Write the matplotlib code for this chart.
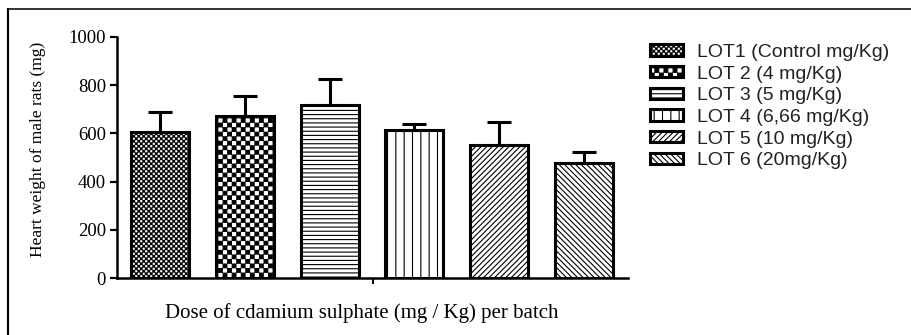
import warnings
import numpy as np
import matplotlib
matplotlib.use("Agg")
import matplotlib.pyplot as plt
import matplotlib.hatch as mhatch
from matplotlib.path import Path
from matplotlib.lines import Line2D

warnings.filterwarnings("ignore", message=".*hatch must consist.*")

# ---------------- data ----------------
groups = ["LOT1 (Control mg/Kg)", "LOT 2 (4 mg/Kg)", "LOT 3 (5 mg/Kg)",
          "LOT 4 (6,66 mg/Kg)", "LOT 5 (10 mg/Kg)", "LOT 6 (20mg/Kg)"]
means = [604, 672, 716, 614, 553, 476]
errors = [84, 83, 110, 25, 94, 48]
yticks = [0, 200, 400, 600, 800, 1000]
xlabel = "Dose of cdamium sulphate (mg / Kg) per batch"
ylabel = "Heart weight of male rats (mg)"


# ------------- custom checkerboard hatch -------------
class CheckerHatch(mhatch.HatchPatternBase):
    def __init__(self, hatch, density):
        self.n = 2 * hatch.count('c')
        self.cells = [(i, j) for i in range(self.n) for j in range(self.n)
                      if (i + j) % 2 == 0] if self.n else []
        self.num_vertices = 5 * len(self.cells)

    def set_vertices_and_codes(self, vertices, codes):
        s = 1.0 / self.n
        d = 0.004
        for k, (i, j) in enumerate(self.cells):
            x0, y0 = i * s + d, j * s + d
            x1, y1 = (i + 1) * s - d, (j + 1) * s - d
            vertices[5 * k:5 * k + 5] = [[x0, y0], [x1, y0], [x1, y1], [x0, y1], [x0, y0]]
            codes[5 * k:5 * k + 5] = [Path.MOVETO, Path.LINETO, Path.LINETO,
                                      Path.LINETO, Path.CLOSEPOLY]


mhatch._hatch_types.append(CheckerHatch)

plt.rcParams['hatch.linewidth'] = 0.8
plt.rcParams['hatch.color'] = 'black'
plt.rcParams['font.family'] = ['Liberation Serif', 'DejaVu Serif']

hatches = ['c' * 20, 'c' * 11, '----', '||', '//////', '\\' * 6]

fig = plt.figure(figsize=(9.12, 3.35), dpi=100)
W, H = 912, 335
ax = fig.add_axes([117 / W, 1 - 278.3 / H, (628 - 117) / W, (278.3 - 36.7) / H])

x = np.arange(len(means))
bars = ax.bar(x, means, width=0.685, color='white', edgecolor='black',
              linewidth=2.2, zorder=2)
for b, h, lab in zip(bars, hatches, groups):
    b.set_hatch(h)
    b.set_label(lab)

ax.errorbar(x, means, yerr=[np.zeros(len(errors)), errors], fmt='none',
            ecolor='black', elinewidth=2.2, capsize=8.5, capthick=2.2, zorder=3)

ax.set_ylim(0, 1000)
ax.set_xlim(-0.51, len(means) - 1 + 0.525)
ax.set_yticks(yticks)
ax.set_yticklabels([str(v) for v in yticks], fontsize=13.5)
mid = sum(ax.get_xlim()) / 2
ax.set_xticks([mid])
ax.set_xticklabels([''])
ax.tick_params(axis='y', direction='out', length=5, width=1.6, pad=3)
ax.tick_params(axis='x', direction='out', length=4, width=1.4)
for s in ['top', 'right']:
    ax.spines[s].set_visible(False)
for s in ['left', 'bottom']:
    ax.spines[s].set_linewidth(1.8)

fig.text(362 / W, 1 - 313 / H, xlabel, ha='center', va='center', fontsize=15)
fig.text(38 / W, 1 - 149 / H, ylabel, ha='center', va='center',
         rotation=90, fontsize=12.5)

leg = fig.legend(handles=list(bars), labels=groups, loc='upper left',
                 bbox_to_anchor=(650 / W, 1 - 44 / H), frameon=False,
                 prop={'family': 'Liberation Sans', 'size': 14},
                 handlelength=1.7, handleheight=0.51, handletextpad=0.71,
                 labelspacing=0.24, borderpad=0, borderaxespad=0)
for t in leg.get_texts():
    t.set_color('#222222')

# outer frame (top and left edges)
fig.add_artist(Line2D([8 / W, 1], [1 - 8.5 / H, 1 - 8.5 / H], transform=fig.transFigure,
                      color='#333333', linewidth=1.4))
fig.add_artist(Line2D([8.3 / W, 8.3 / W], [0, 1 - 8.5 / H], transform=fig.transFigure,
                      color='black', linewidth=1.5))

fig.savefig("out.png", dpi=100)
